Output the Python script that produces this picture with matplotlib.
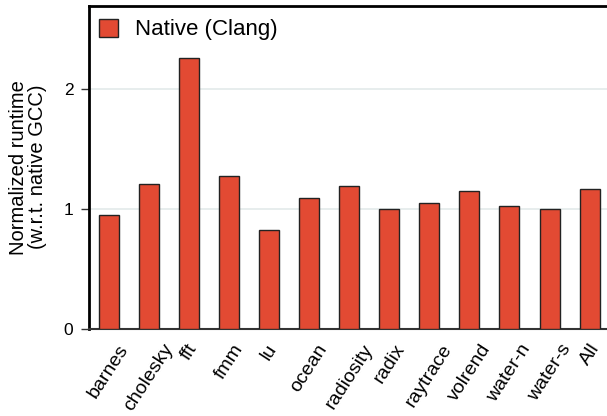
import matplotlib
matplotlib.use("Agg")
import matplotlib.pyplot as plt
import numpy as np

plt.rcParams['font.family'] = ['Liberation Sans', 'DejaVu Sans']

benchmarks = ["barnes", "cholesky", "fft", "fmm", "lu", "ocean", "radiosity",
              "radix", "raytrace", "volrend", "water-n", "water-s", "All"]
clang_runtime = [0.949, 1.206, 2.259, 1.278, 0.821, 1.089, 1.189,
                 0.997, 1.047, 1.147, 1.022, 0.999, 1.163]
series_label = "Native (Clang)"
y_ticks = [0, 1, 2]

fig = plt.figure(figsize=(6.07, 4.16), dpi=100)
ax = fig.add_axes([0.1461, 0.2103, 0.8583, 0.776])

x = np.arange(len(benchmarks))
ax.bar(x, clang_runtime, width=0.5, color="#e24a33", edgecolor="#222222",
       linewidth=1.0, label=series_label, zorder=3)

ax.set_xlim(-0.5, len(benchmarks) - 0.5)
ax.set_ylim(0, 2.7)
ax.set_yticks(y_ticks)
ax.set_yticklabels([str(t) for t in y_ticks], fontsize=12.5)
ax.set_xticks(x)
ax.set_xticklabels(benchmarks, rotation=57, ha="center", va="top", fontsize=14)
ax.tick_params(axis="x", length=0, pad=9)
ax.tick_params(axis="y", length=6, width=1, pad=5, color="#333333")

ax.yaxis.grid(True, color="#e3eaea", linewidth=1.2, zorder=0)
ax.set_axisbelow(True)

for side in ("top", "left"):
    ax.spines[side].set_linewidth(2)
    ax.spines[side].set_color("black")
ax.spines["bottom"].set_linewidth(1.5)
ax.spines["bottom"].set_color("#333333")
ax.spines["right"].set_visible(False)

ax.set_ylabel("Normalized runtime\n(w.r.t. native GCC)", fontsize=14.5,
              linespacing=1.0, labelpad=12)

ax.legend(loc="upper left", frameon=False, fontsize=16, handlelength=0.85,
          handleheight=0.85, handletextpad=0.8, borderaxespad=0.15,
          borderpad=0.3, bbox_to_anchor=(0.0, 0.99))

fig.savefig("out.png", dpi=100)
